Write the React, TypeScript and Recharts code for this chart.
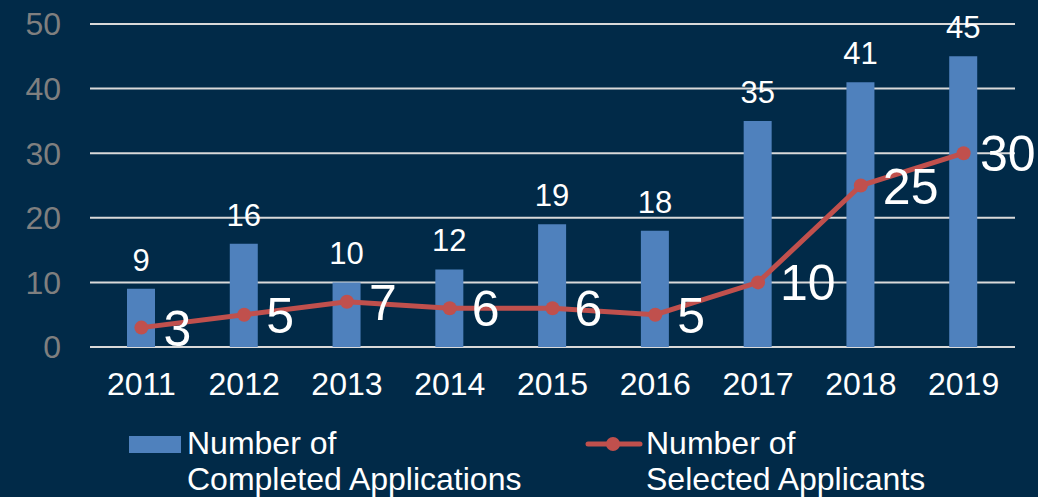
import React from 'react';
import { ComposedChart, Bar, Line, XAxis, YAxis, CartesianGrid, LabelList } from 'recharts';

const years = ['2011', '2012', '2013', '2014', '2015', '2016', '2017', '2018', '2019'];
const completedApplications = [9, 16, 10, 12, 19, 18, 35, 41, 45];
const selectedApplicants = [3, 5, 7, 6, 6, 5, 10, 25, 30];
const yTicks = [0, 10, 20, 30, 40, 50];

const BG = '#012a48';
const BAR = '#4f81bd';
const LINE = '#c0504d';
const FONT = '"Liberation Sans", Arial, sans-serif';

const data = years.map((year, i) => ({
    year,
    completed: completedApplications[i],
    selected: selectedApplicants[i],
}));

// big white numbers sit to the lower right of each point, kept inside the frame
const renderSelectedLabel = (props: any) => {
    const { x, y, value } = props;
    const approxWidth = String(value).length * 28;
    const left = Math.min(x + 22, 1036 - approxWidth);
    return (
        <text x={left} y={y + 18} fill="#ffffff" fontSize={50} fontFamily={FONT}>
            {value}
        </text>
    );
};

function LegendBlock() {
    return (
        <svg width={1038} height={80} style={{ position: 'absolute', left: 0, top: 417 }}>
            <rect x={129} y={19} width={52} height={17} fill={BAR} />
            <text x={187} y={37} fill="#ffffff" fontSize={32} fontFamily={FONT}>Number of</text>
            <text x={187} y={73} fill="#ffffff" fontSize={32} fontFamily={FONT}>Completed Applications</text>

            <line x1={588} y1={27} x2={640} y2={27} stroke={LINE} strokeWidth={5} strokeLinecap="round" />
            <circle cx={613} cy={27} r={7} fill={LINE} />
            <text x={646} y={37} fill="#ffffff" fontSize={32} fontFamily={FONT}>Number of</text>
            <text x={646} y={73} fill="#ffffff" fontSize={32} fontFamily={FONT}>Selected Applicants</text>
        </svg>
    );
}

export default function App() {
    return (
        <div style={{ position: 'absolute', left: 0, top: 0, width: 1038, height: 497, background: BG, overflow: 'hidden' }}>
            <ComposedChart
                width={1038}
                height={497}
                data={data}
                margin={{ top: 24, right: 23, left: 0, bottom: 100 }}
                barCategoryGap={0}
            >
                <CartesianGrid vertical={false} stroke="#d9d9d9" strokeWidth={2} />
                <XAxis
                    dataKey="year"
                    axisLine={false}
                    tickLine={false}
                    height={50}
                    tickMargin={19}
                    tick={{ fill: '#ffffff', fontSize: 32, fontFamily: FONT }}
                />
                <YAxis
                    width={90}
                    domain={[0, 50]}
                    ticks={yTicks}
                    axisLine={false}
                    tickLine={false}
                    tickMargin={23}
                    tick={{ fill: '#7f7f7f', fontSize: 32, fontFamily: FONT }}
                />
                <Bar dataKey="completed" fill={BAR} barSize={28} isAnimationActive={false}>
                    <LabelList dataKey="completed" position="top" offset={18} fill="#ffffff" fontSize={31} fontFamily={FONT} />
                </Bar>
                <Line
                    dataKey="selected"
                    stroke={LINE}
                    strokeWidth={5}
                    dot={{ r: 7, fill: LINE, stroke: LINE, strokeWidth: 0 }}
                    activeDot={false}
                    isAnimationActive={false}
                >
                    <LabelList dataKey="selected" content={renderSelectedLabel} />
                </Line>
            </ComposedChart>
            <LegendBlock />
        </div>
    );
}
